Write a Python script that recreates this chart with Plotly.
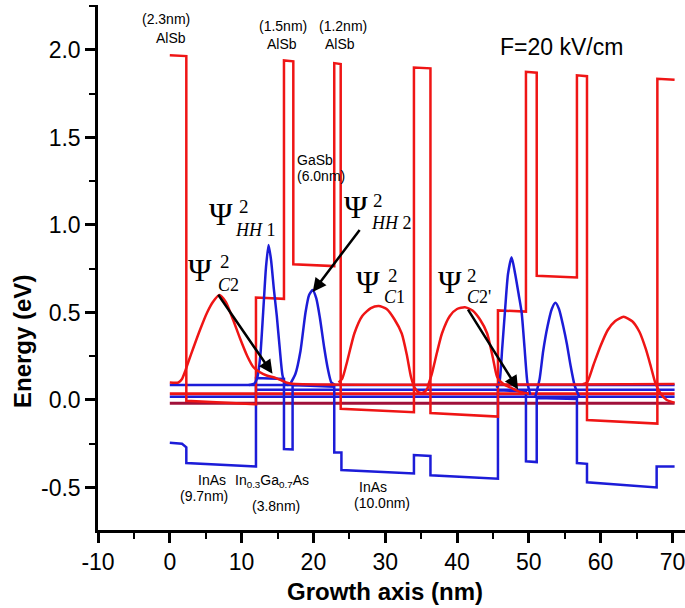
import plotly.graph_objects as go

# ---------------- data ----------------
# conduction-band edge (red step profile)
CB_X = [0, 2.3, 2.3, 12.0, 12.0, 15.9, 15.9, 17.2, 17.2, 22.9, 22.9, 23.8, 23.8, 34.0, 34.0, 36.3,
        36.3, 45.7, 45.7, 49.6, 49.6, 51.1, 51.1, 56.7, 56.7, 58.1, 58.1, 67.9, 67.9, 70.3]
CB_Y = [1.97, 1.965, -0.005, -0.025, 0.585, 0.578, 1.94, 1.935, 0.775, 0.765, 1.925, 1.92, -0.05, -0.07,
        1.90, 1.895, -0.075, -0.095, 0.512, 0.505, 1.875, 1.87, 0.71, 0.70, 1.855, 1.85, -0.115, -0.135,
        1.835, 1.83]

# valence-band edge (blue step profile)
VB_X = [0, 1.7, 2.3, 2.3, 12.0, 12.0, 15.9, 15.9, 17.1, 17.1, 22.9, 22.9, 23.9, 23.9, 34.0, 34.0, 36.3,
        36.3, 45.7, 45.7, 49.6, 49.6, 51.1, 51.1, 56.7, 56.7, 58.1, 58.1, 67.8, 67.8, 70.3]
VB_Y = [-0.245, -0.25, -0.27, -0.36, -0.38, 0.125, 0.12, -0.28, -0.283, 0.085, 0.075, -0.30, -0.30,
        -0.40, -0.42, -0.315, -0.32, -0.43, -0.45, 0.055, 0.05, -0.35, -0.355, 0.012, 0.005, -0.36,
        -0.365, -0.47, -0.50, -0.38, -0.38]

# electron probability densities (red)
C2_X = [0, 1.2, 1.7, 2.1, 2.6, 3.3, 4.2, 5.2, 6.0, 6.9, 7.8, 8.8, 9.8, 10.8, 11.6, 12.5, 13.5, 14.8,
        16.2, 17.0, 70.3]
C2_Y = [0.10, 0.10, 0.12, 0.16, 0.22, 0.30, 0.40, 0.50, 0.56, 0.60, 0.56, 0.46, 0.35, 0.25, 0.19, 0.16,
        0.14, 0.125, 0.10, 0.093, 0.092]
C1_X = [23.5, 24.0, 24.7, 25.7, 26.8, 28.0, 29.1, 30.2, 31.3, 32.3, 33.0, 33.6, 34.1, 34.6, 35.1, 35.6,
        36.0]
C1_Y = [0.10, 0.12, 0.22, 0.38, 0.48, 0.525, 0.537, 0.52, 0.46, 0.38, 0.26, 0.13, 0.07, 0.045, 0.04,
        0.05, 0.075]
C2P_X = [35.9, 36.5, 37.2, 37.9, 39.0, 40.0, 41.1, 42.2, 43.2, 44.2, 45.0, 45.6, 46.5, 47.5, 48.8, 50.0]
C2P_Y = [0.075, 0.15, 0.27, 0.38, 0.48, 0.52, 0.53, 0.51, 0.46, 0.38, 0.24, 0.13, 0.09, 0.07, 0.046,
         0.035]
C1P_X = [57.5, 58.1, 59.0, 60.0, 61.0, 62.0, 63.2, 64.4, 65.4, 66.3, 67.0, 67.6, 68.3, 69.2, 70.3]
C1P_Y = [0.09, 0.10, 0.20, 0.31, 0.40, 0.45, 0.475, 0.45, 0.39, 0.29, 0.19, 0.10, 0.04, 0.0, -0.015]

# heavy-hole probability densities (blue)
HH1_X = [11.0, 11.8, 12.2, 12.6, 13.0, 13.4, 13.75, 14.1, 14.5, 14.9, 15.3, 15.7, 16.1, 16.5]
HH1_Y = [0.086, 0.095, 0.13, 0.25, 0.50, 0.76, 0.886, 0.80, 0.63, 0.48, 0.30, 0.14, 0.09, 0.086]
HH2_X = [16.7, 17.5, 18.2, 18.9, 19.4, 19.9, 20.4, 20.9, 21.5, 22.0, 22.5, 23.0]
HH2_Y = [0.086, 0.15, 0.28, 0.50, 0.60, 0.628, 0.58, 0.47, 0.30, 0.18, 0.10, 0.086]
HH1P_X = [45.5, 45.9, 46.3, 46.7, 47.1, 47.6, 48.1, 48.6, 49.0, 49.4, 49.8, 50.2]
HH1P_Y = [0.07, 0.10, 0.30, 0.52, 0.72, 0.815, 0.72, 0.60, 0.50, 0.30, 0.10, 0.03]
HH2P_X = [50.9, 51.5, 52.0, 52.6, 53.2, 53.7, 54.2, 54.8, 55.3, 55.8, 56.4, 57.0]
HH2P_Y = [0.017, 0.12, 0.28, 0.42, 0.52, 0.555, 0.52, 0.42, 0.32, 0.20, 0.08, 0.02]

# horizontal energy-level lines
LEVEL_E = [0.086, 0.058, 0.035, 0.018, -0.018]
LEVEL_X0 = [0, 12.0, 0, 0, 0]
LEVEL_X1 = [70.3, 70.3, 70.3, 70.3, 70.3]
LEVEL_KIND = ["hh", "hh", "c", "hh", "mix"]

# arrows (tail -> head, data units)
ARROW_TAIL_X = [6.6, 26.6, 41.4]
ARROW_TAIL_Y = [0.61, 0.98, 0.525]
ARROW_HEAD_X = [14.3, 19.9, 48.5]
ARROW_HEAD_Y = [0.15, 0.617, 0.06]

X_TICKS = [-10, 0, 10, 20, 30, 40, 50, 60, 70]
Y_TICKS = [-0.5, 0.0, 0.5, 1.0, 1.5, 2.0]

# ---------------- styling ----------------
RED = "#ef1515"
BLUE = "#1c1cd8"
MIX = "#a0103a"
SANS = "Liberation Sans, Arial, sans-serif"
SERIF = "Liberation Serif, Times New Roman, serif"

fig = go.Figure()

for e, x0, x1, k in zip(LEVEL_E, LEVEL_X0, LEVEL_X1, LEVEL_KIND):
    col = {"hh": BLUE, "c": RED, "mix": MIX}[k]
    fig.add_trace(go.Scatter(x=[x0, x1], y=[e, e], mode="lines",
                             line=dict(color=col, width=3 if k != "hh" else 2.5),
                             hoverinfo="skip", showlegend=False))

fig.add_trace(go.Scatter(x=VB_X, y=VB_Y, mode="lines", line=dict(color=BLUE, width=2.5),
                         showlegend=False))
fig.add_trace(go.Scatter(x=CB_X, y=CB_Y, mode="lines", line=dict(color=RED, width=2.5),
                         showlegend=False))

for xs, ys in [(HH1_X, HH1_Y), (HH2_X, HH2_Y), (HH1P_X, HH1P_Y), (HH2P_X, HH2P_Y)]:
    fig.add_trace(go.Scatter(x=xs, y=ys, mode="lines",
                             line=dict(color=BLUE, width=2.5, shape="spline", smoothing=0.6),
                             showlegend=False))
for xs, ys in [(C2_X, C2_Y), (C1_X, C1_Y), (C2P_X, C2P_Y), (C1P_X, C1P_Y)]:
    fig.add_trace(go.Scatter(x=xs, y=ys, mode="lines",
                             line=dict(color=RED, width=2.5, shape="spline", smoothing=0.6),
                             showlegend=False))

annotations = []
for tx, ty, hx, hy in zip(ARROW_TAIL_X, ARROW_TAIL_Y, ARROW_HEAD_X, ARROW_HEAD_Y):
    annotations.append(dict(x=hx, y=hy, ax=tx, ay=ty, xref="x", yref="y", axref="x", ayref="y",
                            text="", showarrow=True, arrowhead=2, arrowsize=1.1, arrowwidth=2.5,
                            arrowcolor="black"))


def txt(x, y, s, size, font=SANS, color="black", xanchor="center", angle=0):
    # x, y given in pixel coords of the 685x608 picture -> paper coords
    px = (x - 98) / 587.0
    py = (530 - y) / 525.0
    annotations.append(dict(x=px, y=py, xref="paper", yref="paper", text=s, showarrow=False,
                            font=dict(family=font, size=size, color=color), xanchor=xanchor,
                            yanchor="middle", textangle=angle))


# layer labels
txt(166, 19, "(2.3nm)", 14)
txt(171, 38, "AlSb", 14)
txt(283, 26, "(1.5nm)", 14)
txt(282, 44, "AlSb", 14)
txt(343, 26, "(1.2nm)", 14)
txt(340, 44, "AlSb", 14)
txt(295, 160, "GaSb", 14, xanchor="left")
txt(295, 176, "(6.0nm)", 14, xanchor="left")
txt(212, 480, "InAs", 14)
txt(204, 496, "(9.7nm)", 14)
txt(272, 481, "In<sub>0.3</sub>Ga<sub>0.7</sub>As", 14)
txt(276, 506, "(3.8nm)", 14)
txt(373, 487, "InAs", 14)
txt(382, 503, "(10.0nm)", 14)
txt(561, 47, "F=20 kV/cm", 23)

# wavefunction labels
for (cx, cy, sx, sy, bx, by, sub) in [
    (221, 214, 244, 206, 255, 230, "<i>HH</i> 1"),
    (200, 270, 225, 261, 228, 285, "<i>C</i>2"),
    (356, 207, 378, 200, 391, 223, "<i>HH</i> 2"),
    (368, 282, 393, 275, 395, 297, "<i>C</i>1"),
    (450, 282, 472, 275, 479, 297, "<i>C</i>2'"),
]:
    txt(cx, cy, "Ψ", 32, font=SERIF)
    txt(sx, sy, "2", 19, font=SERIF)
    txt(bx, by, sub, 18, font=SERIF)

# axis titles
txt(385, 591, "<b>Growth axis (nm)</b>", 24)
txt(22, 342, "<b>Energy (eV)</b>", 24, angle=-90)

fig.update_layout(
    width=685, height=608,
    margin=dict(l=98, r=0, t=5, b=78, autoexpand=False),
    paper_bgcolor="white", plot_bgcolor="white",
    showlegend=False,
    annotations=annotations,
    xaxis=dict(range=[-10, 71.75], tickvals=X_TICKS, ticktext=[str(v) for v in X_TICKS],
               automargin=False, ticklabeloverflow="allow",
               showgrid=False, zeroline=False, showline=True, linecolor="black", linewidth=2.5,
               ticks="outside", ticklen=10, tickwidth=2.5, tickcolor="black",
               tickfont=dict(family=SANS, size=23, color="black"),
               minor=dict(dtick=5, ticks="outside", ticklen=6, tickwidth=2, tickcolor="black",
                          tick0=0, showgrid=False)),
    yaxis=dict(range=[-0.743, 2.257], tickvals=Y_TICKS, ticktext=[f"{v:.1f}" for v in Y_TICKS],
               automargin=False,
               showgrid=False, zeroline=False, showline=True, linecolor="black", linewidth=2.5,
               ticks="outside", ticklen=10, tickwidth=2.5, tickcolor="black",
               tickfont=dict(family=SANS, size=23, color="black"),
               minor=dict(dtick=0.25, tick0=0, ticks="outside", ticklen=6, tickwidth=2,
                          tickcolor="black", showgrid=False)),
)

fig.write_html("out.html", config={"displayModeBar": False},
               post_script="document.body.style.margin='0';document.body.style.padding='0';")
